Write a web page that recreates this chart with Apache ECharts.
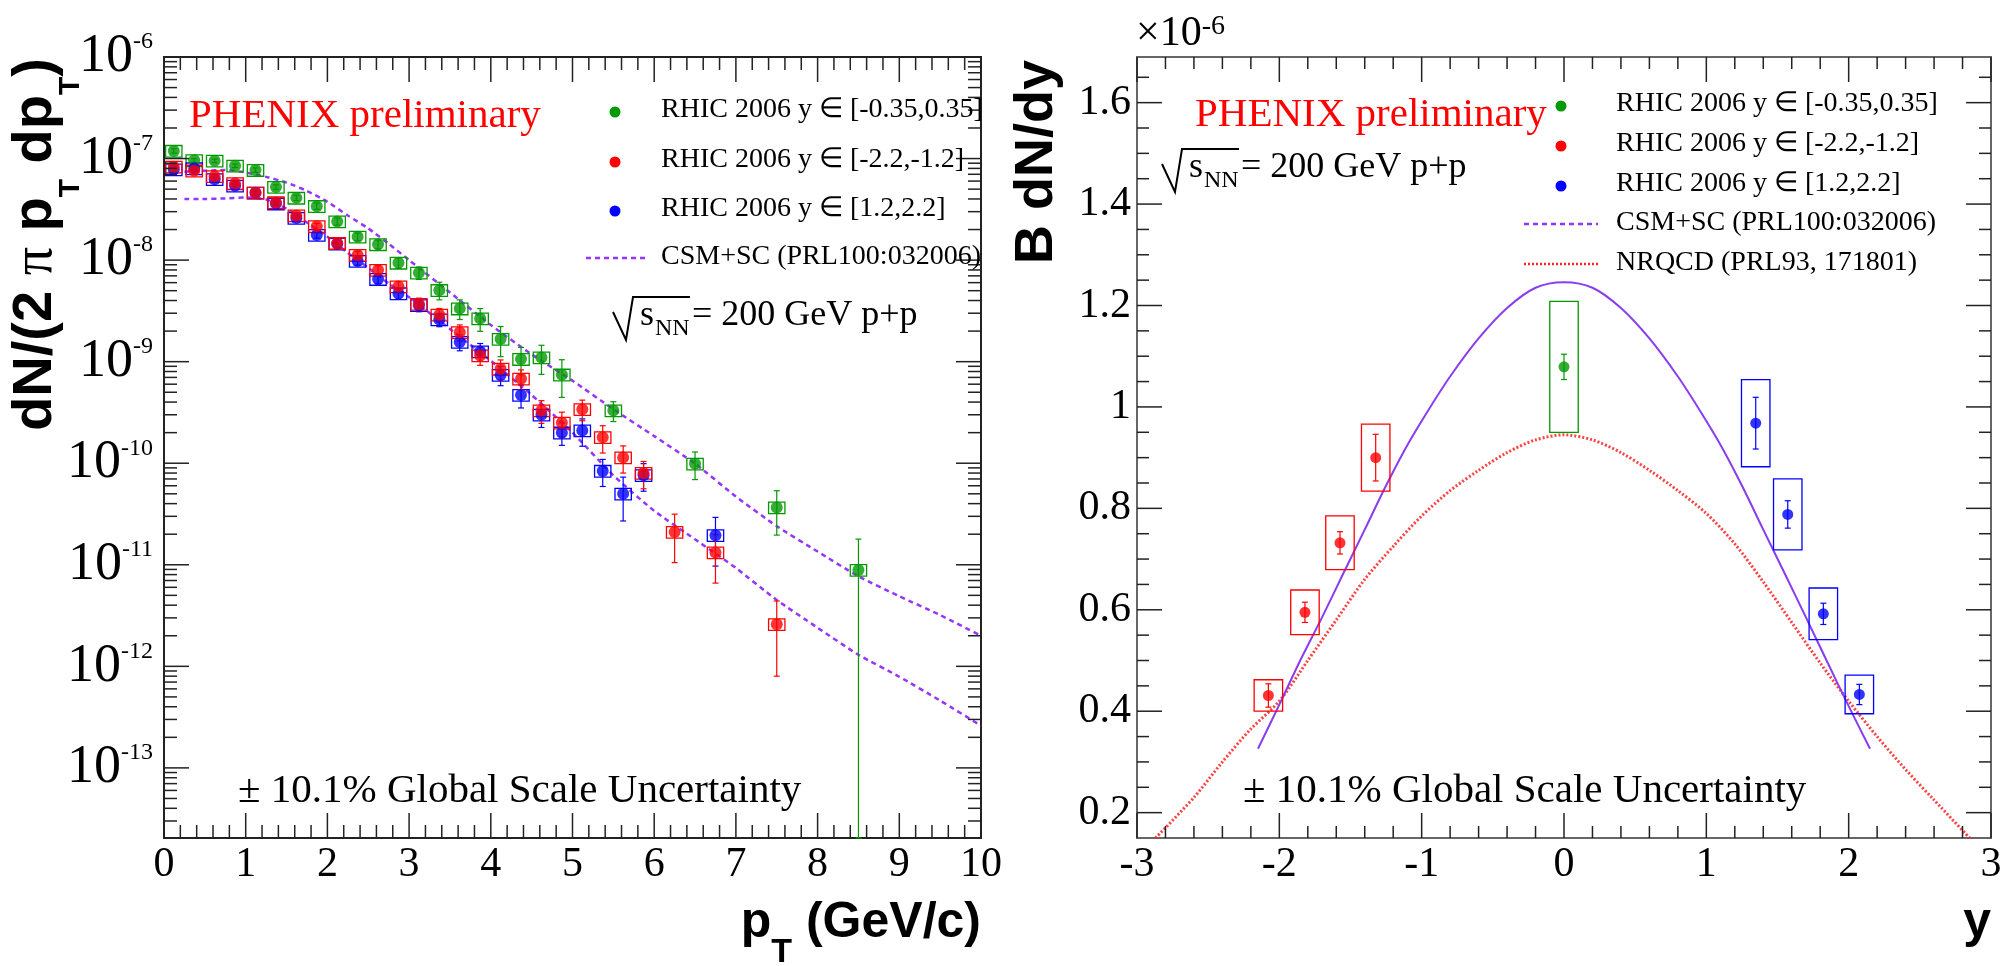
<!DOCTYPE html>
<html><head><meta charset="utf-8">
<script src="https://cdn.jsdelivr.net/npm/echarts@6/dist/echarts.min.js"></script>
<style>html,body{margin:0;padding:0;background:#fff}#c{width:2016px;height:966px}</style>
</head><body><div id="c"></div>
<script>
// ================= LEFT PANEL: dN/(2pi pT dpT) vs pT =================
// y in [-0.35,0.35]
const ptMid  = [0.12,0.37,0.62,0.87,1.12,1.37,1.62,1.87,2.12,2.37,2.62,2.87,3.12,3.37,3.62,3.87,4.12,4.37,4.62,4.87,5.5,6.5,7.5,8.5];
const valMid = [1.19e-7,9.6e-8,9.5e-8,8.5e-8,7.7e-8,5.25e-8,4.1e-8,3.4e-8,2.4e-8,1.7e-8,1.43e-8,9.4e-9,7.5e-9,5.06e-9,3.33e-9,2.66e-9,1.67e-9,1.06e-9,1.1e-9,7.45e-10,3.3e-10,9.9e-11,3.66e-11,8.9e-12];
const errMid = [6.0e-9,3.8e-9,3.8e-9,3.4e-9,3.9e-9,2.6e-9,2.5e-9,2.4e-9,1.9e-9,1.5e-9,1.4e-9,1.1e-9,1.05e-9,1.0e-9,7.3e-10,6.7e-10,5.5e-10,3.2e-10,3.5e-10,3.0e-10,7.3e-11,3.0e-11,1.7e-11,9.0e-12];
// y in [-2.2,-1.2]
const ptBwd  = [0.12,0.37,0.62,0.87,1.12,1.37,1.62,1.87,2.12,2.37,2.62,2.87,3.12,3.37,3.62,3.87,4.12,4.37,4.62,4.87,5.12,5.37,5.62,5.87,6.25,6.75,7.5];
const valBwd = [8.3e-8,7.6e-8,6.7e-8,5.7e-8,4.6e-8,3.7e-8,2.75e-8,2.15e-8,1.47e-8,1.12e-8,8.0e-9,5.5e-9,3.7e-9,2.9e-9,1.95e-9,1.15e-9,8.5e-10,6.8e-10,3.3e-10,2.5e-10,3.4e-10,1.8e-10,1.14e-10,8.0e-11,2.1e-11,1.32e-11,2.6e-12];
const errBwd = [3.3e-9,3.0e-9,2.7e-9,2.3e-9,2.3e-9,1.85e-9,1.65e-9,1.5e-9,1.2e-9,1.0e-9,8.0e-10,6.6e-10,5.2e-10,4.4e-10,3.5e-10,2.3e-10,1.9e-10,1.5e-10,8.3e-11,6.8e-11,7.8e-11,5.4e-11,3.4e-11,2.4e-11,1.05e-11,6.6e-12,1.8e-12];
// y in [1.2,2.2]
const ptFwd  = [0.12,0.37,0.62,0.87,1.12,1.37,1.62,1.87,2.12,2.37,2.62,2.87,3.12,3.37,3.62,3.87,4.12,4.37,4.62,4.87,5.12,5.37,5.62,5.87,6.75];
const valFwd = [7.8e-8,8.0e-8,6.25e-8,5.4e-8,4.6e-8,3.6e-8,2.6e-8,1.77e-8,1.45e-8,9.8e-9,6.5e-9,4.7e-9,3.6e-9,2.6e-9,1.56e-9,1.26e-9,7.4e-10,4.7e-10,3.0e-10,2.0e-10,2.1e-10,8.4e-11,5.0e-11,7.6e-11,1.95e-11];
const errFwd = [3.1e-9,3.2e-9,2.5e-9,2.2e-9,2.3e-9,1.8e-9,1.56e-9,1.24e-9,1.16e-9,8.8e-10,6.5e-10,5.6e-10,5.0e-10,3.9e-10,2.8e-10,2.5e-10,1.6e-10,1.2e-10,7.5e-11,5.0e-11,6.3e-11,2.5e-11,2.3e-11,2.3e-11,9.8e-12];
const sysRelPt = 0.13;      // systematic box half-height (relative)
const boxHalfWidthPt = 0.1; // box half-width in GeV/c
// CSM+SC theory curves
const csmPt     = [0.25,0.5,0.75,1.0,1.25,1.5,1.75,2.0,2.25,2.5,2.75,3.0,3.5,4.0,4.5,5.0,5.5,6.0,6.5,7.0,7.5,8.0,8.5,9.0,9.5,10.0];
const csmMidVal = [7.4e-8,7.6e-8,7.7e-8,7.3e-8,6.6e-8,5.8e-8,4.8e-8,3.75e-8,2.75e-8,2.05e-8,1.45e-8,1.0e-8,4.8e-9,2.3e-9,1.18e-9,6.5e-10,3.4e-10,1.85e-10,9.9e-11,4.7e-11,2.4e-11,1.35e-11,7.7e-12,4.9e-12,3.2e-12,2.0e-12];
const csmFwdVal = [4.0e-8,4.0e-8,4.05e-8,4.15e-8,3.95e-8,3.2e-8,2.35e-8,1.7e-8,1.18e-8,8.4e-9,5.9e-9,4.3e-9,2.1e-9,1.02e-9,4.7e-10,2.0e-10,7.6e-11,3.4e-11,1.78e-11,9.3e-12,4.5e-12,2.4e-12,1.3e-12,7.9e-13,4.6e-13,2.6e-13];
const logDecades = [-13,-12,-11,-10,-9,-8,-7,-6];
const ptTickLabels = [0,1,2,3,4,5,6,7,8,9,10];

// ================= RIGHT PANEL: B dN/dy vs y (x 1e-6) =================
const yMid = [0.0],  dndyMid = [1.079], statMid = [0.025], sysMid = [0.129];
const yBwd = [-2.077,-1.82,-1.574,-1.323], dndyBwd = [0.431,0.595,0.732,0.900], statBwd = [0.023,0.020,0.022,0.046], sysBwd = [0.031,0.044,0.053,0.066];
const yFwd = [1.347,1.572,1.822,2.075],   dndyFwd = [0.968,0.788,0.592,0.433], statFwd = [0.051,0.027,0.021,0.020], sysFwd = [0.086,0.070,0.051,0.038];
const boxHalfWidthY = 0.1;
const csmY    = [-2.15,-2.0,-1.85,-1.7,-1.55,-1.4,-1.25,-1.1,-0.95,-0.8,-0.6,-0.4,-0.2,0,0.2,0.4,0.6,0.8,0.95,1.1,1.25,1.4,1.55,1.7,1.85,2.0,2.15];
const csmDndy = [0.326,0.413,0.502,0.585,0.672,0.758,0.845,0.925,0.995,1.06,1.135,1.195,1.235,1.246,1.235,1.195,1.135,1.06,0.995,0.925,0.845,0.758,0.672,0.585,0.497,0.41,0.326];
const nrqcdY    = [-2.87,-2.6,-2.4,-2.2,-2.0,-1.8,-1.6,-1.4,-1.2,-1.0,-0.8,-0.6,-0.4,-0.2,0,0.2,0.4,0.6,0.8,1.0,1.2,1.4,1.6,1.8,2.0,2.2,2.4,2.6,2.85];
const nrqcdDndy = [0.15,0.23,0.30,0.365,0.42,0.5,0.58,0.66,0.725,0.785,0.835,0.875,0.91,0.935,0.945,0.935,0.91,0.875,0.835,0.79,0.73,0.655,0.575,0.495,0.42,0.35,0.285,0.225,0.15];
const yTickLabels = [0.2,0.4,0.6,0.8,1.0,1.2,1.4,1.6];
const rapTickLabels = [-3,-2,-1,0,1,2,3];

// ================= helpers =================
const serif = 'Liberation Serif', sans = 'Liberation Sans';
const GREEN = '#009900', RED = '#ff0000', BLUE = '#0000ff', PURPLE = '#9436ff';
const Y_MIN_L = 2.04e-14, Y_MAX_L = 1e-6, Y_MIN_R = 0.15, Y_MAX_R = 1.69;
const zip = (a, b) => a.map((x, i) => [x, b[i]]);

function errDataRel(xs, vs, es, rel, hw, floor) {
  return xs.map((x, i) => [x, vs[i], Math.max(vs[i] - es[i], floor), vs[i] + es[i], vs[i] * (1 - rel), vs[i] * (1 + rel), hw]);
}
function errDataAbs(xs, vs, es, ss, hw) {
  return xs.map((x, i) => [x, vs[i], vs[i] - es[i], vs[i] + es[i], vs[i] - ss[i], vs[i] + ss[i], hw]);
}
function errBoxRenderer(color, cap) {
  return function (params, api) {
    const x = api.value(0), lo = api.value(2), hi = api.value(3), bLo = api.value(4), bHi = api.value(5), hw = api.value(6);
    const a = api.coord([x - hw, bHi]), b = api.coord([x + hw, bLo]);
    const pl = api.coord([x, lo]), ph = api.coord([x, hi]);
    const st = {stroke: color, lineWidth: 1.2};
    return {type: 'group', children: [
      {type: 'rect', shape: {x: a[0], y: a[1], width: b[0] - a[0], height: b[1] - a[1]}, style: {fill: 'none', stroke: color, lineWidth: 1.3}},
      {type: 'line', shape: {x1: pl[0], y1: pl[1], x2: ph[0], y2: ph[1]}, style: st},
      {type: 'line', shape: {x1: ph[0] - cap, y1: ph[1], x2: ph[0] + cap, y2: ph[1]}, style: st},
      {type: 'line', shape: {x1: pl[0] - cap, y1: pl[1], x2: pl[0] + cap, y2: pl[1]}, style: st}
    ]};
  };
}
function range(a, b, step) { const r = []; const n = Math.round((b - a) / step); for (let i = 0; i <= n; i++) r.push(Math.round((a + i * step) * 1e6) / 1e6); return r; }

function tickRenderer(o) {
  return function (params, api) {
    const ch = [];
    const L = (x1, y1, x2, y2) => ch.push({type: 'line', shape: {x1, y1, x2, y2}, style: {stroke: o.color, lineWidth: 1.5}});
    const xt = (list, len) => list.forEach(x => { const b = api.coord([x, o.yMin]), t = api.coord([x, o.yMax]); L(b[0], b[1], b[0], b[1] - len); L(t[0], t[1], t[0], t[1] + len); });
    const yt = (list, len) => list.forEach(y => { const l = api.coord([o.xMin, y]), r = api.coord([o.xMax, y]); L(l[0], l[1], l[0] + len, l[1]); L(r[0] - len, r[1], r[0], r[1]); });
    xt(o.xMajor, o.maj); xt(o.xMinor, o.min); yt(o.yMajor, o.maj); yt(o.yMinor, o.min);
    if (o.logLabels) {
      o.logLabels.forEach(n => {
        const p = api.coord([o.xMin, Math.pow(10, n)]);
        ch.push({type: 'text', x: p[0] - 11, y: p[1], style: {
          text: '{b|10}{s|' + n + '}', align: 'right', verticalAlign: 'middle',
          rich: {b: {fontSize: 54, fontFamily: serif, fill: '#000', lineHeight: 54},
                 s: {fontSize: 24, fontFamily: serif, fill: '#000', verticalAlign: 'top', lineHeight: 30}}}});
      });
    }
    return {type: 'group', children: ch};
  };
}

// tick positions
const leftYMajor = logDecades.map(n => Math.pow(10, n));
const leftYMinor = [];
for (let n = -14; n <= -7; n++) for (let k = 2; k <= 9; k++) { const v = k * Math.pow(10, n); if (v > Y_MIN_L && v < Y_MAX_L) leftYMinor.push(v); }
const leftXMinor = range(0, 10, 0.2).filter(v => Math.abs(v - Math.round(v)) > 1e-6);
const rightXMinor = range(-3, 3, 0.2).filter(v => Math.abs(v - Math.round(v)) > 1e-6);
const rightYMinor = range(0.2, 1.65, 0.05).filter(v => Math.abs(v / 0.2 - Math.round(v / 0.2)) > 1e-6);

// ================= chart =================
const chart = echarts.init(document.getElementById('c'), null, {renderer: 'canvas'});
const tickLabelStyle = {fontFamily: serif, fontSize: 42, color: '#000'};

const option = {
  animation: false,
  backgroundColor: '#fff',
  grid: [
    {left: 164, top: 57, width: 817, height: 781, show: true, borderColor: '#222', borderWidth: 2, backgroundColor: 'transparent'},
    {left: 1137, top: 57, width: 854, height: 781, show: true, borderColor: '#666', borderWidth: 2, backgroundColor: 'transparent'}
  ],
  xAxis: [
    {gridIndex: 0, type: 'value', min: 0, max: 10, interval: 1, axisLine: {show: false}, axisTick: {show: false}, splitLine: {show: false},
     axisLabel: Object.assign({margin: 6}, tickLabelStyle)},
    {gridIndex: 1, type: 'value', min: -3, max: 3, interval: 1, axisLine: {show: false}, axisTick: {show: false}, splitLine: {show: false},
     axisLabel: Object.assign({margin: 6}, tickLabelStyle)}
  ],
  yAxis: [
    {gridIndex: 0, type: 'log', logBase: 10, min: Y_MIN_L, max: Y_MAX_L, axisLine: {show: false}, axisTick: {show: false}, splitLine: {show: false}, axisLabel: {show: false}},
    {gridIndex: 1, type: 'value', min: Y_MIN_R, max: Y_MAX_R, axisLine: {show: false}, axisTick: {show: false}, splitLine: {show: false},
     axisLabel: Object.assign({margin: 6, customValues: yTickLabels}, tickLabelStyle)}
  ],
  series: [
    // ---- left ----
    {type: 'line', xAxisIndex: 0, yAxisIndex: 0, data: zip(csmPt, csmMidVal), symbol: 'none', smooth: 0.2, z: 1,
     lineStyle: {color: PURPLE, width: 2.5, type: [5, 4]}},
    {type: 'line', xAxisIndex: 0, yAxisIndex: 0, data: zip(csmPt, csmFwdVal), symbol: 'none', smooth: 0.2, z: 1,
     lineStyle: {color: PURPLE, width: 2.5, type: [5, 4]}},
    {type: 'custom', xAxisIndex: 0, yAxisIndex: 0, z: 2, encode: {x: 0, y: 1}, renderItem: errBoxRenderer(GREEN, 3),
     data: errDataRel(ptMid, valMid, errMid, sysRelPt, boxHalfWidthPt, Y_MIN_L)},
    {type: 'custom', xAxisIndex: 0, yAxisIndex: 0, z: 2, encode: {x: 0, y: 1}, renderItem: errBoxRenderer(BLUE, 3),
     data: errDataRel(ptFwd, valFwd, errFwd, sysRelPt, boxHalfWidthPt, Y_MIN_L)},
    {type: 'custom', xAxisIndex: 0, yAxisIndex: 0, z: 2, encode: {x: 0, y: 1}, renderItem: errBoxRenderer(RED, 3),
     data: errDataRel(ptBwd, valBwd, errBwd, sysRelPt, boxHalfWidthPt, Y_MIN_L)},
    {type: 'scatter', xAxisIndex: 0, yAxisIndex: 0, z: 3, symbol: 'circle', symbolSize: 12, itemStyle: {color: GREEN}, data: zip(ptMid, valMid)},
    {type: 'scatter', xAxisIndex: 0, yAxisIndex: 0, z: 3, symbol: 'circle', symbolSize: 12, itemStyle: {color: BLUE}, data: zip(ptFwd, valFwd)},
    {type: 'scatter', xAxisIndex: 0, yAxisIndex: 0, z: 3, symbol: 'circle', symbolSize: 12, itemStyle: {color: RED}, data: zip(ptBwd, valBwd)},
    {type: 'custom', xAxisIndex: 0, yAxisIndex: 0, z: 4, encode: {x: 0, y: 1}, data: [[5, 1e-9]],
     renderItem: tickRenderer({color: '#222', xMin: 0, xMax: 10, yMin: Y_MIN_L, yMax: Y_MAX_L, maj: 25, min: 13,
       xMajor: ptTickLabels, xMinor: leftXMinor, yMajor: leftYMajor, yMinor: leftYMinor, logLabels: logDecades})},
    // ---- right ----
    {type: 'line', xAxisIndex: 1, yAxisIndex: 1, data: zip(nrqcdY, nrqcdDndy), symbol: 'none', smooth: 0.3, z: 1,
     lineStyle: {color: '#ff2020', width: 3, type: [2, 2], opacity: 0.85}},
    {type: 'line', xAxisIndex: 1, yAxisIndex: 1, data: zip(csmY, csmDndy), symbol: 'none', smooth: 0.3, z: 1,
     lineStyle: {color: '#8a3cf0', width: 2}},
    {type: 'custom', xAxisIndex: 1, yAxisIndex: 1, z: 2, encode: {x: 0, y: 1}, renderItem: errBoxRenderer(GREEN, 3),
     data: errDataAbs(yMid, dndyMid, statMid, sysMid, boxHalfWidthY)},
    {type: 'custom', xAxisIndex: 1, yAxisIndex: 1, z: 2, encode: {x: 0, y: 1}, renderItem: errBoxRenderer(RED, 3),
     data: errDataAbs(yBwd, dndyBwd, statBwd, sysBwd, boxHalfWidthY)},
    {type: 'custom', xAxisIndex: 1, yAxisIndex: 1, z: 2, encode: {x: 0, y: 1}, renderItem: errBoxRenderer(BLUE, 3),
     data: errDataAbs(yFwd, dndyFwd, statFwd, sysFwd, boxHalfWidthY)},
    {type: 'scatter', xAxisIndex: 1, yAxisIndex: 1, z: 3, symbol: 'circle', symbolSize: 11, itemStyle: {color: GREEN}, data: zip(yMid, dndyMid)},
    {type: 'scatter', xAxisIndex: 1, yAxisIndex: 1, z: 3, symbol: 'circle', symbolSize: 11, itemStyle: {color: RED}, data: zip(yBwd, dndyBwd)},
    {type: 'scatter', xAxisIndex: 1, yAxisIndex: 1, z: 3, symbol: 'circle', symbolSize: 11, itemStyle: {color: BLUE}, data: zip(yFwd, dndyFwd)},
    {type: 'custom', xAxisIndex: 1, yAxisIndex: 1, z: 4, encode: {x: 0, y: 1}, data: [[0, 1]],
     renderItem: tickRenderer({color: '#222', xMin: -3, xMax: 3, yMin: Y_MIN_R, yMax: Y_MAX_R, maj: 25, min: 12,
       xMajor: rapTickLabels, xMinor: rightXMinor, yMajor: yTickLabels, yMinor: rightYMinor})}
  ],
  graphic: []
};

// ---------- annotations ----------
const G = option.graphic;
const txt = (x, y, text, size, color, extra) => G.push(Object.assign({type: 'text', x, y, z: 10,
  style: {text, fontSize: size, fontFamily: serif, fill: color || '#000', align: 'left', verticalAlign: 'middle'}}, extra || {}));
const hline = (x1, x2, y, color, dash, w) => G.push({type: 'line', z: 10, shape: {x1, y1: y, x2, y2: y}, style: {stroke: color, lineWidth: w, lineDash: dash}});
const dot = (x, y, color) => G.push({type: 'circle', z: 10, shape: {cx: x, cy: y, r: 5.5}, style: {fill: color}});

// axis titles
const subTok = (size, lh) => ({fontSize: size, fontWeight: 'bold', fontFamily: sans, fill: '#000', verticalAlign: 'bottom', lineHeight: lh});
G.push({type: 'text', x: 36, y: 58, rotation: Math.PI / 2, z: 10, style: {
  text: 'dN/(2 {pi|π} p{t|T} dp{t|T})', fontSize: 56, fontWeight: 'bold', fontFamily: sans, fill: '#000', align: 'right', verticalAlign: 'middle', lineHeight: 99,
  rich: {t: subTok(30, 30), pi: {fontSize: 56, fontFamily: serif, fill: '#000', lineHeight: 99}}}});
G.push({type: 'text', x: 1037, y: 60, rotation: Math.PI / 2, z: 10, style: {
  text: 'B dN/dy', fontSize: 54, fontWeight: 'bold', fontFamily: sans, fill: '#000', align: 'right', verticalAlign: 'middle'}});
G.push({type: 'text', x: 981, y: 923, z: 10, style: {
  text: 'p{t|T} (GeV/c)', fontSize: 50, fontWeight: 'bold', fontFamily: sans, fill: '#000', align: 'right', verticalAlign: 'middle', lineHeight: 94,
  rich: {t: subTok(34, 34)}}});
G.push({type: 'text', x: 1991, y: 923, z: 10, style: {
  text: 'y', fontSize: 50, fontWeight: 'bold', fontFamily: sans, fill: '#000', align: 'right', verticalAlign: 'middle'}});
G.push({type: 'text', x: 1136, y: 34, z: 10, style: {
  text: '×10{s|-6}', fontSize: 42, fontFamily: serif, fill: '#000', align: 'left', verticalAlign: 'middle', lineHeight: 42,
  rich: {s: {fontSize: 28, fontFamily: serif, fill: '#000', verticalAlign: 'top', lineHeight: 28}}}});

// left panel texts
txt(189, 116, 'PHENIX preliminary', 41, RED);
txt(238, 791, '± 10.1% Global Scale Uncertainty', 41);
dot(615, 112, GREEN); txt(661, 110, 'RHIC 2006 y ∈ [-0.35,0.35]', 28);
dot(615, 162, RED);   txt(661, 160, 'RHIC 2006 y ∈ [-2.2,-1.2]', 28);
dot(615, 211, BLUE);  txt(661, 209, 'RHIC 2006 y ∈ [1.2,2.2]', 28);
hline(586, 649, 258, PURPLE, [5, 4], 2.5); txt(661, 257, 'CSM+SC (PRL100:032006)', 28);

// right panel texts
txt(1195, 115, 'PHENIX preliminary', 41, RED);
txt(1243, 791, '± 10.1% Global Scale Uncertainty', 41);
dot(1561, 106, GREEN); txt(1616, 104, 'RHIC 2006 y ∈ [-0.35,0.35]', 28);
dot(1561, 146, RED);   txt(1616, 144, 'RHIC 2006 y ∈ [-2.2,-1.2]', 28);
dot(1561, 186, BLUE);  txt(1616, 184, 'RHIC 2006 y ∈ [1.2,2.2]', 28);
hline(1524, 1598, 224, PURPLE, [5, 4], 2.5); txt(1616, 223, 'CSM+SC (PRL100:032006)', 28);
hline(1524, 1598, 264, '#ff2020', [2, 2], 2.5); txt(1616, 263, 'NRQCD (PRL93, 171801)', 28);

// sqrt(s_NN) = 200 GeV p+p
function sqrtLabel(x0, base) {
  G.push({type: 'polyline', z: 10, shape: {points: [[x0, base - 16], [x0 + 13, base + 12], [x0 + 20, base - 31], [x0 + 77, base - 31]]},
          style: {stroke: '#000', lineWidth: 2, fill: null}});
  txt(x0 + 27, base - 12, 's', 36);
  txt(x0 + 42, base + 1, 'NN', 24);
  txt(x0 + 79, base - 12, '= 200 GeV p+p', 36);
}
sqrtLabel(613, 328);
sqrtLabel(1162, 180);

chart.setOption(option);
</script>
</body></html>
